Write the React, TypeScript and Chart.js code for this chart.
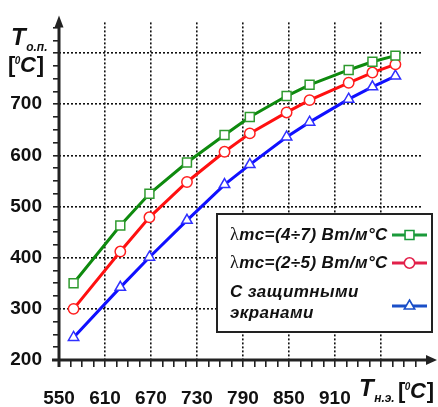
import React, { useEffect, useRef } from 'react';
import { Chart, registerables } from 'chart.js';

Chart.register(...registerables);

// ---- data ----
const xValues = [569, 630, 668, 717, 766, 799, 847, 877, 928, 959, 989];
const greenValues = [350, 463, 525, 586, 640, 675, 716, 738, 767, 783, 795];
const redValues = [300, 412, 479, 548, 607, 643, 684, 708, 742, 762, 778];
const blueValues = [244, 342, 401, 473, 543, 582, 636, 665, 710, 734, 755];
const seriesLabels = ['λmc=(4÷7) Bm/м°C', 'λmc=(2÷5) Bm/м°C', 'С защитными\nэкранами'];

const xTickLabels = [550, 610, 670, 730, 790, 850, 910];
const xGridValues = [610, 670, 730, 790, 850, 910, 970];
const yTickLabels = [200, 300, 400, 500, 600, 700];
const yGridValues = [300, 400, 500, 600, 700, 800];
const xRange = [550, 1025];
const yRange = [200, 860];
const xMinorStep = 15;
const yMinorStep = 25;

const yTitleMain = 'T';
const yTitleSub = 'о.п.';
const xTitleMain = 'T';
const xTitleSub = 'н.э.';
const unitOpen = '[';
const unitSup = '0';
const unitC = 'C';
const unitClose = ']';

const FONT = '"Liberation Sans", Arial, sans-serif';

function buildTicks(min: number, max: number, step: number) {
  const t: { value: number }[] = [];
  for (let v = min; v <= max + 1e-9; v += step) t.push({ value: v });
  return t;
}

function drawMarker(ctx: CanvasRenderingContext2D, style: string, x: number, y: number, r: number) {
  ctx.beginPath();
  if (style === 'rect') {
    const s = Math.SQRT1_2 * r;
    ctx.rect(x - s, y - s, 2 * s, 2 * s);
  } else if (style === 'triangle') {
    let rad = 0;
    const tw = (2 * Math.PI) / 3;
    ctx.moveTo(x + Math.sin(rad) * r, y - Math.cos(rad) * r);
    rad += tw;
    ctx.lineTo(x + Math.sin(rad) * r, y - Math.cos(rad) * r);
    rad += tw;
    ctx.lineTo(x + Math.sin(rad) * r, y - Math.cos(rad) * r);
    ctx.closePath();
  } else {
    ctx.arc(x, y, r, 0, Math.PI * 2);
  }
  ctx.fill();
  ctx.stroke();
}

function drawLegendText(ctx: CanvasRenderingContext2D, text: string, x: number, y: number) {
  let cx = x;
  let rest = text;
  if (rest.startsWith('λ')) {
    ctx.font = `18px "Liberation Serif", "DejaVu Serif", serif`;
    (ctx as any).letterSpacing = '0px';
    ctx.fillText('λ', cx, y);
    cx += ctx.measureText('λ').width + 0.5;
    rest = rest.slice(1);
  }
  ctx.font = `italic bold 17px ${FONT}`;
  (ctx as any).letterSpacing = '0.4px';
  ctx.fillText(rest, cx, y);
  (ctx as any).letterSpacing = '0px';
}

const legendPlugin = {
  id: 'customLegend',
  afterDatasetsDraw(chart: any) {
    const ctx: CanvasRenderingContext2D = chart.ctx;
    const bx = 217, by = 214, bw = 215, bh = 118;
    ctx.save();
    ctx.fillStyle = '#ffffff';
    ctx.fillRect(bx, by, bw, bh);
    ctx.lineWidth = 2;
    ctx.strokeStyle = '#222';
    ctx.strokeRect(bx, by, bw, bh);
    const rows = [
      { textY: [235], sampleY: 235 },
      { textY: [263], sampleY: 263 },
      { textY: [292, 313], sampleY: 306 },
    ];
    chart.data.datasets.forEach((ds: any, i: number) => {
      const row = rows[i];
      const lines = String(ds.label).split('\n');
      ctx.fillStyle = '#111';
      ctx.textBaseline = 'middle';
      ctx.textAlign = 'left';
      lines.forEach((ln, j) => drawLegendText(ctx, ln, 230, row.textY[j]));
      ctx.strokeStyle = ds.legendColor || ds.borderColor;
      ctx.lineWidth = 3;
      ctx.beginPath();
      ctx.moveTo(392, row.sampleY);
      ctx.lineTo(427, row.sampleY);
      ctx.stroke();
      ctx.fillStyle = '#fff';
      ctx.lineWidth = 1.6;
      ctx.strokeStyle = ds.legendColor || ds.pointBorderColor;
      drawMarker(ctx, ds.pointStyle, 409.5, row.sampleY, ds.pointRadius);
    });
    ctx.restore();
  },
};

function drawTitle(ctx: CanvasRenderingContext2D, x: number, baseY: number, main: string, sub: string) {
  ctx.textBaseline = 'alphabetic';
  ctx.textAlign = 'left';
  ctx.font = `italic bold 24px ${FONT}`;
  ctx.fillText(main, x, baseY);
  const w = ctx.measureText(main).width;
  ctx.font = `italic bold 12px ${FONT}`;
  ctx.fillText(sub, x + w + 0.5, baseY + 6);
}

function drawUnit(ctx: CanvasRenderingContext2D, x: number, baseY: number) {
  ctx.textBaseline = 'alphabetic';
  ctx.textAlign = 'left';
  ctx.font = `bold 22px ${FONT}`;
  ctx.fillText(unitOpen, x, baseY);
  let cx = x + ctx.measureText(unitOpen).width;
  ctx.font = `italic bold 10px ${FONT}`;
  ctx.fillText(unitSup, cx - 0.5, baseY - 8);
  cx += ctx.measureText(unitSup).width - 1;
  ctx.font = `italic bold 22px ${FONT}`;
  ctx.fillText(unitC, cx, baseY);
  cx += ctx.measureText(unitC).width + 1;
  ctx.font = `bold 22px ${FONT}`;
  ctx.fillText(unitClose, cx, baseY);
}

const axesPlugin = {
  id: 'arrowAxes',
  afterDraw(chart: any) {
    const ctx: CanvasRenderingContext2D = chart.ctx;
    const a = chart.chartArea;
    ctx.save();
    ctx.strokeStyle = '#222';
    ctx.fillStyle = '#222';
    ctx.lineWidth = 3;
    // x axis
    ctx.beginPath();
    ctx.moveTo(a.left - 7, a.bottom);
    ctx.lineTo(a.right + 6, a.bottom);
    ctx.stroke();
    ctx.beginPath();
    ctx.moveTo(a.right + 14, a.bottom);
    ctx.lineTo(a.right + 3, a.bottom - 5);
    ctx.lineTo(a.right + 3, a.bottom + 5);
    ctx.closePath();
    ctx.fill();
    // y axis
    ctx.beginPath();
    ctx.moveTo(a.left, a.bottom + 7);
    ctx.lineTo(a.left, a.top - 1);
    ctx.stroke();
    ctx.beginPath();
    ctx.moveTo(a.left, a.top - 7);
    ctx.lineTo(a.left - 4.5, a.top + 5);
    ctx.lineTo(a.left + 4.5, a.top + 5);
    ctx.closePath();
    ctx.fill();
    // titles
    ctx.fillStyle = '#111';
    drawTitle(ctx, 11, 45, yTitleMain, yTitleSub);
    drawUnit(ctx, 8, 72);
    drawTitle(ctx, 359, 396, xTitleMain, xTitleSub);
    drawUnit(ctx, 398, 398);
    ctx.restore();
  },
};

export default function App() {
  const ref = useRef<HTMLCanvasElement>(null);
  useEffect(() => {
    document.body.style.margin = '0';
    const canvas = ref.current!;
    const mk = (vals: number[]) => xValues.map((x, i) => ({ x, y: vals[i] }));
    const tickFont = { family: FONT, size: 19, weight: 'bold' as const };
    const chart = new Chart(canvas, {
      type: 'line',
      data: {
        datasets: [
          {
            label: seriesLabels[0],
            data: mk(greenValues),
            borderColor: '#0e8a0e',
            borderWidth: 3,
            pointStyle: 'rect',
            pointRadius: 6.3,
            pointBorderColor: '#2f9a2f',
            pointBackgroundColor: '#ffffff',
            pointBorderWidth: 1.5,
            legendColor: '#1a9a3a',
          } as any,
          {
            label: seriesLabels[1],
            data: mk(redValues),
            borderColor: '#ff1010',
            borderWidth: 3,
            pointStyle: 'circle',
            pointRadius: 5.2,
            pointBorderColor: '#ff2020',
            pointBackgroundColor: '#ffffff',
            pointBorderWidth: 1.5,
            legendColor: '#e2204a',
          } as any,
          {
            label: seriesLabels[2],
            data: mk(blueValues),
            borderColor: '#1010ff',
            borderWidth: 3,
            pointStyle: 'triangle',
            pointRadius: 6,
            pointBorderColor: '#3030ff',
            pointBackgroundColor: '#ffffff',
            pointBorderWidth: 1.5,
            legendColor: '#1a4fc8',
          } as any,
        ],
      },
      options: {
        animation: false,
        responsive: false,
        devicePixelRatio: 1,
        layout: { padding: { top: 20, right: 15, left: 0, bottom: 0 } },
        plugins: { legend: { display: false }, tooltip: { enabled: false } },
        scales: {
          x: {
            type: 'linear',
            min: xRange[0],
            max: xRange[1],
            afterBuildTicks: (s: any) => {
              s.ticks = buildTicks(xRange[0], xRange[1], xMinorStep);
            },
            afterFit: (s: any) => {
              s.height = 47;
            },
            ticks: {
              autoSkip: false,
              maxRotation: 0,
              padding: 20,
              color: '#111',
              font: tickFont,
              callback: (v: any) => (xTickLabels.includes(Number(v)) ? String(v) : ''),
            },
            grid: {
              color: (c: any) => (xGridValues.includes(c.tick?.value) ? '#111' : 'rgba(0,0,0,0)'),
              lineWidth: 1.6,
              tickColor: '#222',
              tickWidth: 1.6,
              tickLength: 7,
              borderDash: [2, 2],
            } as any,
            border: { display: false, dash: [2, 2] },
          },
          y: {
            type: 'linear',
            min: yRange[0],
            max: yRange[1],
            afterBuildTicks: (s: any) => {
              s.ticks = buildTicks(yRange[0], yRange[1], yMinorStep);
            },
            afterFit: (s: any) => {
              s.width = 59;
            },
            ticks: {
              autoSkip: false,
              padding: 11,
              color: '#111',
              font: tickFont,
              callback: (v: any) => (yTickLabels.includes(Number(v)) ? String(v) : ''),
            },
            grid: {
              color: (c: any) => (yGridValues.includes(c.tick?.value) ? '#111' : 'rgba(0,0,0,0)'),
              lineWidth: 1.6,
              tickColor: '#222',
              tickWidth: 1.6,
              tickLength: 6,
              borderDash: [2, 2],
            } as any,
            border: { display: false, dash: [2, 2] },
          },
        },
      },
      plugins: [legendPlugin, axesPlugin],
    });
    return () => chart.destroy();
  }, []);
  return (
    <div style={{ width: 438, height: 407 }}>
      <canvas ref={ref} width={438} height={407} />
    </div>
  );
}
